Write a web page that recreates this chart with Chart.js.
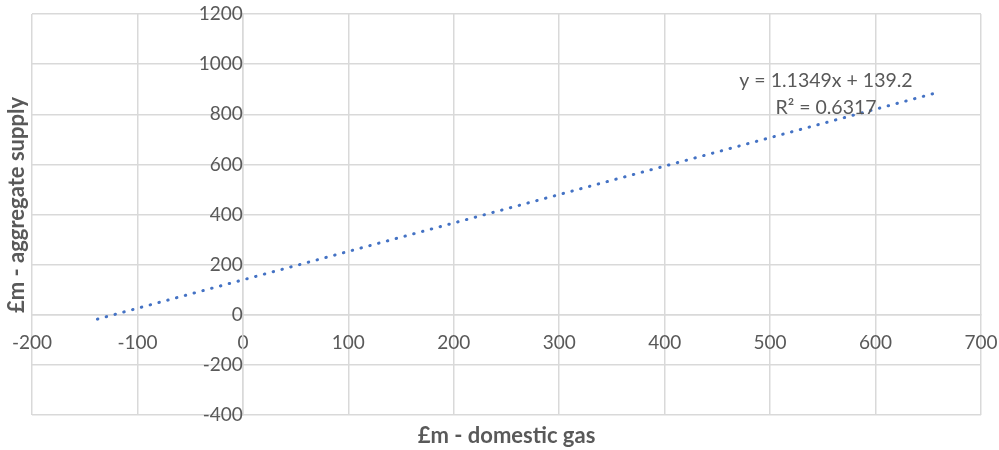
<!DOCTYPE html>
<html>
<head>
<meta charset="utf-8">
<script src="https://cdn.jsdelivr.net/npm/chart.js@4.4.1/dist/chart.umd.min.js"></script>
<style>
  html, body { margin: 0; padding: 0; background: #ffffff; }
  #wrap { width: 999px; height: 450px; position: relative; }
</style>
</head>
<body>
<div id="wrap"><canvas id="chart" width="999" height="450"></canvas></div>
<script>
// Linear trendline of aggregate supply against domestic gas (£m)
const trendSlope = 1.1349;
const trendIntercept = 139.2;
const trendRSquared = 0.6317;
const trendXRange = [-138, 658];

// Axis ranges and steps
const xAxisRange = [-200, 700];
const xAxisStep = 100;
const yAxisRange = [-400, 1200];
const yAxisStep = 200;

// Titles and label texts
const xTitle = '£m - domestic gas';
const yTitle = '£m - aggregate supply';
const equationText = 'y = ' + trendSlope.toFixed(4) + 'x + ' + trendIntercept.toFixed(1);
const rSquaredText = 'R² = ' + trendRSquared.toFixed(4);
const equationAnchor = [553, 880];

const trendPoints = trendXRange.map(x => ({ x: x, y: trendSlope * x + trendIntercept }));

const FONT = 'Lato, "Open Sans", sans-serif';
const TEXT = '#595959';
const GRID = '#d9d9d9';

// keep tick labels from pushing the plot area inwards
function noEdgePadding(scale) {
  scale.paddingTop = 0;
  scale.paddingBottom = 0;
  scale.paddingLeft = 0;
  scale.paddingRight = 0;
}

const overlayText = {
  id: 'overlayText',
  afterDraw(chart) {
    const { ctx, chartArea, scales } = chart;
    ctx.save();
    ctx.fillStyle = TEXT;
    // equation + R² label
    ctx.font = '19.5px ' + FONT;
    ctx.textAlign = 'center';
    ctx.textBaseline = 'middle';
    const cx = scales.x.getPixelForValue(equationAnchor[0]);
    const cy = scales.y.getPixelForValue(equationAnchor[1]);
    ctx.fillText(equationText, cx, cy - 13.5);
    ctx.fillText(rSquaredText, cx, cy + 13.5);
    // axis titles
    ctx.font = 'bold 22px ' + FONT;
    ctx.fillText(xTitle, (chartArea.left + chartArea.right) / 2, 436);
    ctx.translate(17, 205);
    ctx.rotate(-Math.PI / 2);
    ctx.fillText(yTitle, 0, 0);
    ctx.restore();
  }
};

new Chart(document.getElementById('chart'), {
  type: 'scatter',
  data: {
    datasets: [{
      data: trendPoints,
      showLine: true,
      pointRadius: 0,
      borderColor: '#4472C4',
      borderWidth: 3,
      borderDash: [0.5, 8.6],
      borderCapStyle: 'round'
    }]
  },
  options: {
    responsive: false,
    animation: false,
    layout: { padding: { left: 32, right: 18, top: 14, bottom: 35 } },
    plugins: { legend: { display: false }, tooltip: { enabled: false } },
    scales: {
      x: {
        type: 'linear',
        position: { y: 0 },
        min: xAxisRange[0],
        max: xAxisRange[1],
        afterFit: noEdgePadding,
        ticks: {
          stepSize: xAxisStep, color: TEXT, font: { family: FONT, size: 19 }, padding: 17, maxRotation: 0,
          callback: v => String(v)
        },
        grid: { color: GRID, lineWidth: 1.5, drawTicks: false },
        border: { color: GRID, width: 1.5 }
      },
      y: {
        type: 'linear',
        position: { x: 0 },
        min: yAxisRange[0],
        max: yAxisRange[1],
        afterFit: noEdgePadding,
        ticks: {
          stepSize: yAxisStep, color: TEXT, font: { family: FONT, size: 19 }, padding: 21,
          callback: v => String(v)
        },
        grid: { color: GRID, lineWidth: 1.5, drawTicks: false },
        border: { color: GRID, width: 1.5 }
      }
    }
  },
  plugins: [overlayText]
});
</script>
</body>
</html>
